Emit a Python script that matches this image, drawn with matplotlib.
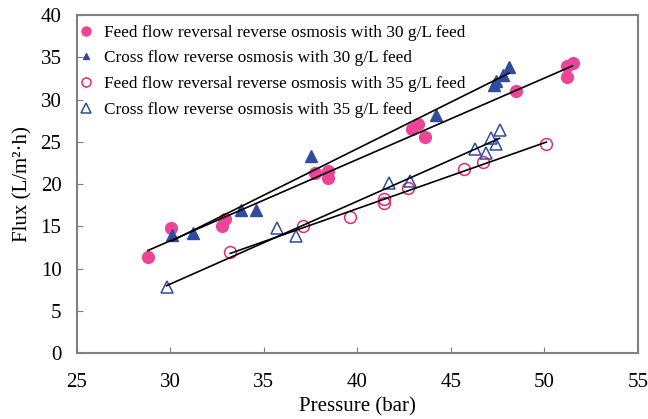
import matplotlib
matplotlib.use('Agg')
import matplotlib.pyplot as plt
from matplotlib.lines import Line2D
import numpy as np

plt.rcParams['font.family'] = ['Liberation Serif', 'DejaVu Serif']

# Feed flow reversal RO, 30 g/L feed
ffr30_p = [28.8, 30.05, 32.75, 32.9, 37.75, 38.45, 38.45, 42.9, 43.25, 43.6, 48.5, 51.2, 51.5, 51.2]
ffr30_f = [11.4, 14.8, 15.0, 15.9, 21.3, 21.5, 20.7, 26.5, 27.1, 25.6, 31.0, 34.0, 34.3, 32.7]

# Cross flow RO, 30 g/L feed
cf30_p = [30.1, 31.2, 33.8, 34.6, 37.5, 44.2, 47.3, 47.4, 47.8, 48.1]
cf30_f = [14.0, 14.2, 16.9, 17.0, 23.3, 28.2, 31.7, 32.2, 32.9, 33.8]

# Feed flow reversal RO, 35 g/L feed
ffr35_p = [33.2, 37.1, 39.6, 41.4, 41.4, 42.7, 45.7, 46.7, 50.1]
ffr35_f = [12.0, 15.1, 16.1, 18.2, 17.8, 19.5, 21.8, 22.6, 24.8]

# Cross flow RO, 35 g/L feed
cf35_p = [29.8, 35.7, 36.7, 41.7, 42.8, 46.3, 46.9, 47.15, 47.4, 47.6]
cf35_f = [7.8, 14.8, 13.9, 20.1, 20.4, 24.1, 23.7, 25.4, 24.8, 26.4]

labels = [
    'Feed flow reversal reverse osmosis with 30 g/L feed',
    'Cross flow reverse osmosis with 30 g/L feed',
    'Feed flow reversal reverse osmosis with 35 g/L feed',
    'Cross flow reverse osmosis with 35 g/L feed',
]

PINK = '#EC4497'
RED = '#E8286E'
BLUE = '#2F4C9E'

fig = plt.figure(figsize=(6.48, 4.19), dpi=100)
ax = fig.add_axes([0.1184, 0.1568, 0.8662, 0.8074])

series = [
    (ffr30_p, ffr30_f, dict(marker='o', color=PINK, mfc=PINK, mec=PINK, ms=8.5)),
    (cf30_p, cf30_f, dict(marker='^', color=BLUE, mfc=BLUE, mec=BLUE, ms=9)),
    (ffr35_p, ffr35_f, dict(marker='o', color=RED, mfc='none', mec=RED, ms=8.5, mew=1.1)),
    (cf35_p, cf35_f, dict(marker='^', color=BLUE, mfc='none', mec=BLUE, ms=9, mew=1.1)),
]

for x, y, style in series:
    ax.plot(x, y, linestyle='none', zorder=3, **style)
    # linear trend line over the data range
    k, b = np.polyfit(x, y, 1)
    xs = np.array([min(x), max(x)])
    ax.plot(xs, k * xs + b, color='black', lw=1.2, zorder=4)

ax.set_xlim(25, 55)
ax.set_ylim(0, 40)
ax.set_xticks(range(25, 56, 5))
ax.set_yticks(range(0, 41, 5))
ax.set_xlabel('Pressure (bar)', fontsize=15, labelpad=4)
ax.set_ylabel('Flux (L/m²·h)', fontsize=15, labelpad=6)
ax.tick_params(direction='in', length=4, color='#808080', labelsize=15)
ax.tick_params(axis='x', pad=14)
ax.tick_params(axis='y', pad=11)
for s in ax.spines.values():
    s.set_color('#808080')
    s.set_linewidth(1.5)

handles = [
    Line2D([], [], ls='none', marker='o', mfc=PINK, mec=PINK, ms=6.5),
    Line2D([], [], ls='none', marker='^', mfc=BLUE, mec=BLUE, ms=4.5),
    Line2D([], [], ls='none', marker='o', mfc='none', mec=RED, ms=6.5, mew=1.1),
    Line2D([], [], ls='none', marker='^', mfc='none', mec=BLUE, ms=7, mew=1.1),
]
ax.legend(handles, labels, loc='upper left', bbox_to_anchor=(-0.009, 1),
          frameon=False, fontsize=12.4,
          handlelength=0.6, handletextpad=0.7, borderaxespad=0.2,
          borderpad=0.35, labelspacing=0.56)

fig.savefig('out.png', dpi=100)
